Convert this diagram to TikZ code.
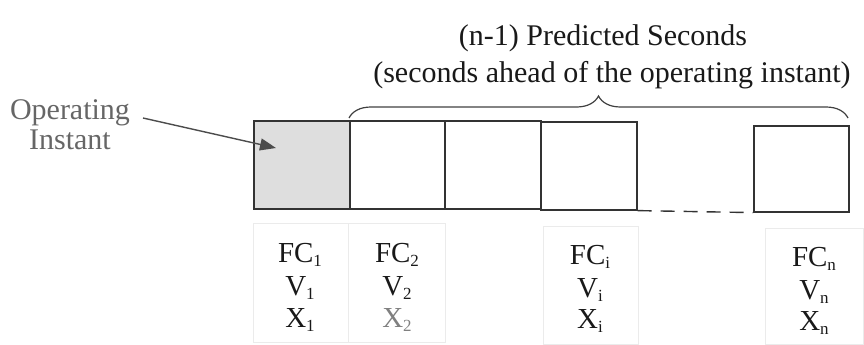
\documentclass[tikz,border=0pt]{standalone}
\usepackage{fontspec}
\setmainfont{Liberation Serif}
\usetikzlibrary{decorations.pathreplacing,arrows.meta}
\newcommand\sbs[1]{\raisebox{-0.35ex}{\fontsize{17}{17}\selectfont #1}}
\tikzset{
  cell/.style={draw=black!80, line width=1.6pt},
  grp/.style={draw=black!8, line width=0.8pt},
  lbl/.style={anchor=base, font=\fontsize{29}{32}\selectfont, text=black!90, inner sep=0pt},
  big/.style={anchor=base, font=\fontsize{30}{34}\selectfont, text=black!90, inner sep=0pt},
}
\begin{document}
\begin{tikzpicture}[x=1pt,y=-1pt]
\useasboundingbox (0,0) rectangle (864,345);
% faint label boxes
\draw[grp] (253,223) rectangle (348,342);
\draw[grp] (348,223) rectangle (445,342);
\draw[grp] (543,226) rectangle (638,344);
\draw[grp] (765,228) rectangle (863,344);
% cells
\node[cell, fill=black!13, minimum width=96pt, minimum height=88pt, inner sep=0pt, anchor=north west] (c1) at (253,120) {};
\node[cell, minimum width=95pt, minimum height=88pt, inner sep=0pt, anchor=north west] (c2) at (349,120) {};
\node[cell, minimum width=96pt, minimum height=88pt, inner sep=0pt, anchor=north west] (c3) at (444,120) {};
\node[cell, minimum width=96pt, minimum height=88pt, inner sep=0pt, anchor=north west] (c4) at (540,121) {};
\node[cell, minimum width=95pt, minimum height=86pt, inner sep=0pt, anchor=north west] (cn) at (753,125) {};
\draw[black!80, line width=1.4pt, dash pattern=on 14pt off 9pt] (c4.south east) -- (cn.south west);
% brace
\coordinate (bl) at (349,118);
\coordinate (br) at (848,118);
\draw[black!75, line width=1.2pt, decorate, decoration={brace, amplitude=22pt, aspect=0.5}] (bl) -- (br);
% title
\node[big] (t1) at (603,46) {(n-1) Predicted Seconds};
\node[big] (t2) at (612,82) {(seconds ahead of the operating instant)};
% operating instant
\node[big, text=black!60] (op1) at (70,119) {Operating};
\node[big, text=black!60] (op2) at (70,149) {Instant};
\coordinate (opa) at (143,118);
\coordinate (opb) at (276,148);
\draw[black!70, line width=1.4pt, -{Triangle[length=16pt,width=12pt]}] (opa) -- (opb);
% labels
\node[lbl] (f1) at (300,262) {FC\sbs{1}};
\node[lbl] (v1) at (300,295) {V\sbs{1}};
\node[lbl] (x1) at (300,327) {X\sbs{1}};
\node[lbl] (f2) at (397,262) {FC\sbs{2}};
\node[lbl] (v2) at (397,295) {V\sbs{2}};
\node[lbl, text=black!50] (x2) at (397,327) {X\sbs{2}};
\node[lbl] (fi) at (590,264) {FC\sbs{i}};
\node[lbl] (vi) at (590,297) {V\sbs{i}};
\node[lbl] (xi) at (590,328) {X\sbs{i}};
\node[lbl] (fn) at (814,266) {FC\sbs{n}};
\node[lbl] (vn) at (814,299) {V\sbs{n}};
\node[lbl] (xn) at (814,330) {X\sbs{n}};
\end{tikzpicture}
\end{document}
